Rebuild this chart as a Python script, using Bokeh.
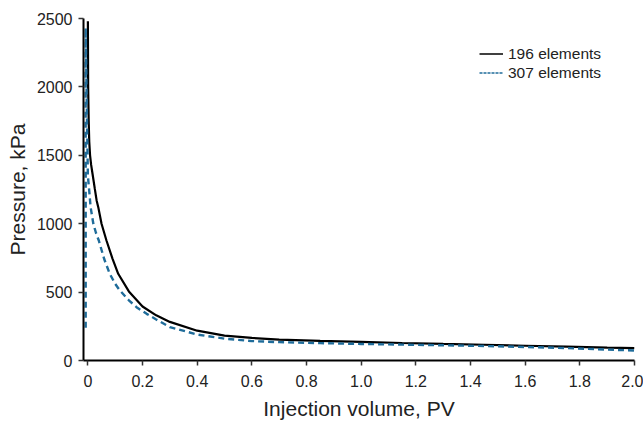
from bokeh.plotting import figure
from bokeh.models import Range1d, Legend, LegendItem, FixedTicker
from bokeh.embed import file_html
from bokeh.resources import INLINE

# Data
x_196 = [0.0, 0.001, 0.003, 0.005, 0.008, 0.012, 0.017, 0.025, 0.032, 0.038, 0.05, 0.068,
         0.09, 0.111, 0.15, 0.2, 0.25, 0.3, 0.4, 0.5, 0.6, 0.7, 0.85, 1.0, 1.15, 1.3,
         1.45, 1.6, 1.75, 1.9, 2.0]
p_196 = [2480, 2000, 1750, 1600, 1500, 1430, 1365, 1260, 1170, 1121, 1000, 877,
         745, 634, 505, 395, 330, 282, 218, 182, 165, 153, 143, 136, 128, 121,
         115, 108, 101, 94, 90]

x_307 = [-0.008, -0.008, -0.005, -0.002, 0.0, 0.005, 0.01, 0.02, 0.03, 0.04, 0.06, 0.08,
         0.1, 0.117, 0.15, 0.178, 0.215, 0.25, 0.3, 0.4, 0.5, 0.6, 0.7, 0.85, 1.0,
         1.15, 1.3, 1.45, 1.6, 1.75, 1.9, 2.0]
p_307 = [240, 2430, 2000, 1600, 1350, 1240, 1121, 1000, 930, 877, 740, 634,
         560, 512, 440, 390, 341, 300, 244, 190, 160, 142, 134, 127, 121,
         116, 111, 106, 99, 91, 80, 73]

x_ticks = [0, 0.2, 0.4, 0.6, 0.8, 1.0, 1.2, 1.4, 1.6, 1.8, 2.0]
x_tick_labels = ["0", "0.2", "0.4", "0.6", "0.8", "1.0", "1.2", "1.4", "1.6", "1.8", "2.0"]
y_ticks = [0, 500, 1000, 1500, 2000, 2500]
series_names = ["196 elements", "307 elements"]

BLUE = "#1f6c9a"
FONT = "Liberation Sans"

p = figure(width=643, height=422, output_backend="svg", toolbar_location=None,
           x_range=Range1d(-0.016, 2.0), y_range=Range1d(0, 2500),
           min_border_left=83, min_border_right=9, min_border_top=18, min_border_bottom=62)
p.outline_line_color = None
p.xgrid.visible = False
p.ygrid.visible = False
p.background_fill_color = "white"
p.border_fill_color = "white"

r1 = p.line(x_196, p_196, line_color="black", line_width=2.2)
r2 = p.line(x_307, p_307, line_color=BLUE, line_width=2.4, line_dash="6 4")

# legend sample renderers (thin, fine dash like the reference key)
l1 = p.line([float("nan")], [float("nan")], line_color="black", line_width=1.5)
l2 = p.line([float("nan")], [float("nan")], line_color=BLUE, line_width=1.5, line_dash="3 1")

for ax in (p.xaxis[0], p.yaxis[0]):
    ax.axis_line_color = "black"
    ax.axis_line_width = 2
    ax.major_tick_line_color = "#333333"
    ax.major_tick_line_width = 1.5
    ax.major_tick_out = 5
    ax.major_tick_in = 0
    ax.minor_tick_line_color = None
    ax.major_label_text_font = FONT
    ax.major_label_text_font_size = "16px"
    ax.major_label_text_color = "#222222"
    ax.axis_label_text_font = FONT
    ax.axis_label_text_font_style = "normal"
    ax.axis_label_text_font_size = "21px"
    ax.axis_label_text_color = "#222222"

p.xaxis[0].ticker = FixedTicker(ticks=x_ticks)
p.xaxis[0].major_label_overrides = {t: s for t, s in zip(x_ticks, x_tick_labels)}
p.xaxis[0].axis_label = "Injection volume, PV"
p.xaxis[0].major_label_standoff = 9
p.xaxis[0].axis_label_standoff = 7

p.yaxis[0].ticker = FixedTicker(ticks=y_ticks)
p.yaxis[0].axis_label = "Pressure, kPa"
p.yaxis[0].major_label_standoff = 6
p.yaxis[0].axis_label_standoff = 5

legend = Legend(items=[LegendItem(label=series_names[0], renderers=[l1]),
                       LegendItem(label=series_names[1], renderers=[l2])],
                location=(396, 278), padding=0, margin=0, spacing=0,
                glyph_width=24, glyph_height=19, label_height=19, label_standoff=5,
                label_text_font=FONT, label_text_font_size="15.5px",
                label_text_color="#222222",
                border_line_color=None, background_fill_alpha=0)
p.add_layout(legend, "center")

open("out.html", "w").write(file_html(p, INLINE))
